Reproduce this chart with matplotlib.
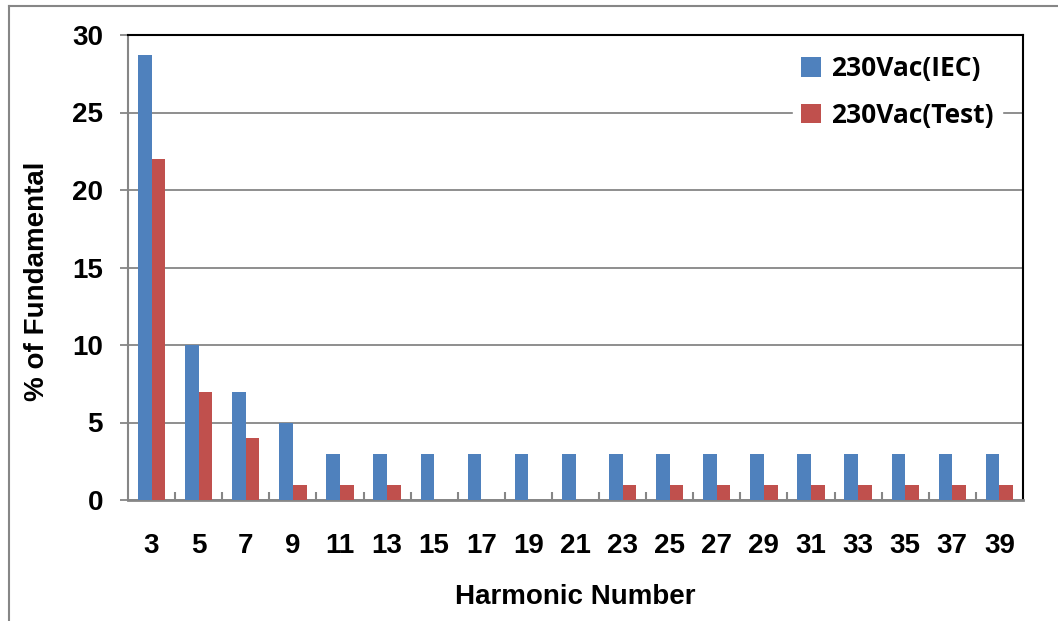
import matplotlib
matplotlib.use("Agg")
import matplotlib.pyplot as plt
import numpy as np
from matplotlib.lines import Line2D

harmonics = list(range(3, 41, 2))
iec = [28.7, 10, 7, 5, 3, 3, 3, 3, 3, 3, 3, 3, 3, 3, 3, 3, 3, 3, 3]
test = [22, 7, 4, 1, 1, 1, 0, 0, 0, 0, 1, 1, 1, 1, 1, 1, 1, 1, 1]

blue = "#4f81bd"
red = "#c0504d"
gray = "#868686"

plt.rcParams["font.family"] = ["Liberation Sans", "DejaVu Sans"]

fig = plt.figure(figsize=(10.58, 6.21), dpi=100)
ax = fig.add_axes([128 / 1058, 1 - 500 / 621, (1023 - 128) / 1058, (500 - 35) / 621])

# outer chart border (only left and top are visible)
fig.add_artist(Line2D([9 / 1058, 9 / 1058], [0, 1 - 6 / 621], color=gray, lw=1.5))
fig.add_artist(Line2D([9 / 1058, 1], [1 - 6 / 621, 1 - 6 / 621], color=gray, lw=1.5))

x = np.arange(len(harmonics))
w = 0.29
ax.bar(x - w / 2, iec, w, color=blue, label="230Vac(IEC)", zorder=3)
ax.bar(x + w / 2, test, w, color=red, label="230Vac(Test)", zorder=3)

ax.set_xlim(-0.5, len(harmonics) - 0.5)
ax.set_ylim(0, 30)
ax.set_yticks(range(0, 31, 5))
ax.yaxis.grid(True, color=gray, lw=1.3, zorder=0)

ax.set_xticks(x)
ax.set_xticklabels([str(h) for h in harmonics])
ax.set_xticks(x[:-1] + 0.5, minor=True)
ax.tick_params(axis="x", which="major", length=0, pad=24, labelsize=20)
ax.tick_params(axis="x", which="minor", length=6, width=1.5, direction="in", color=gray)
ax.tick_params(axis="y", length=6, width=1.3, color=gray, pad=12, labelsize=20)
for lbl in ax.get_xticklabels() + ax.get_yticklabels():
    lbl.set_fontweight("bold")

ax.spines["left"].set_color(gray)
ax.spines["bottom"].set_color(gray)
ax.spines["left"].set_linewidth(1.5)
ax.spines["bottom"].set_linewidth(2)
ax.spines["top"].set_color("black")
ax.spines["right"].set_color("black")
ax.spines["top"].set_linewidth(1.5)
ax.spines["right"].set_linewidth(1.5)

ax.set_xlabel("Harmonic Number", fontsize=20, fontweight="bold", labelpad=18)
ax.set_ylabel("% of Fundamental", fontsize=20, fontweight="bold", labelpad=10)
ax.yaxis.set_label_coords(-0.087, 0.47)

leg = ax.legend(loc="upper right", bbox_to_anchor=(0.982, 0.985), frameon=True,
                prop={"family": ["Open Sans", "DejaVu Sans"], "weight": "bold", "size": 19},
                handlelength=0.75, handleheight=0.75, handletextpad=0.4, labelspacing=0.75,
                borderpad=0.3, borderaxespad=0.2, fancybox=False)
leg.get_frame().set_edgecolor("white")
leg.get_frame().set_facecolor("white")
leg.get_frame().set_alpha(1)
leg.set_zorder(5)

fig.savefig("out.png", dpi=100)
